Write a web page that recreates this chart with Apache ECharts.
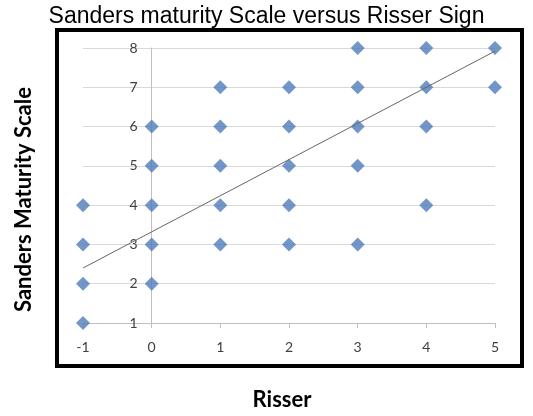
<!DOCTYPE html>
<html>
<head>
<meta charset="UTF-8">
<title>Sanders maturity Scale versus Risser Sign</title>
<script type="text/javascript" src="https://cdn.jsdelivr.net/npm/echarts@6/dist/echarts.min.js"></script>
<style>
  html, body { margin: 0; padding: 0; background: #fff; }
  #main { width: 533px; height: 416px; }
</style>
</head>
<body>
<div id="main"></div>
<script type="text/javascript">
// Risser sign vs Sanders maturity scale, one entry per diamond
var risser  = [3, 4, 5,  1, 2, 3, 4, 5,  0, 1, 2, 3, 4,  0, 1, 2, 3,  -1, 0, 1, 2, 4,  -1, 0, 1, 2, 3,  -1, 0,  -1];
var sanders = [8, 8, 8,  7, 7, 7, 7, 7,  6, 6, 6, 6, 6,  5, 5, 5, 5,   4, 4, 4, 4, 4,   3, 3, 3, 3, 3,   2, 2,   1];
// trend line as drawn (end points)
var trendX = [-1, 5];
var trendY = [2.4, 7.92];
var xTicks = [-1, 0, 1, 2, 3, 4, 5];
var yTicks = [1, 2, 3, 4, 5, 6, 7, 8];

var points = [];
for (var i = 0; i < risser.length; i++) {
    points.push([risser[i], sanders[i]]);
}
var trend = [];
for (var j = 0; j < trendX.length; j++) {
    trend.push([trendX[j], trendY[j]]);
}

var gridLeft = 83, gridRight = 38;
var plotW = 533 - gridLeft - gridRight;
// the y axis crosses at x = 0: shift it right by one x unit
var yShift = plotW / (xTicks[xTicks.length - 1] - xTicks[0]) * (0 - xTicks[0]);

var myChart = echarts.init(document.getElementById('main'));
var labelFont = 'Lato, "Open Sans", sans-serif';

var option = {
    animation: false,
    title: {
        text: 'Sanders maturity Scale versus Risser Sign',
        left: 'center',
        top: 0,
        textStyle: {
            fontFamily: '"Liberation Sans", Arial, sans-serif',
            fontWeight: 'normal',
            fontSize: 23,
            color: '#000'
        }
    },
    graphic: [{
        type: 'rect',
        shape: { x: 57, y: 30, width: 465, height: 336 },
        style: { fill: 'none', stroke: '#000', lineWidth: 4 },
        z: 100
    }],
    grid: {
        left: gridLeft,
        right: gridRight,
        top: 48,
        bottom: 93,
        containLabel: false,
        outerBoundsMode: 'none'
    },
    xAxis: {
        type: 'value',
        min: xTicks[0],
        max: xTicks[xTicks.length - 1],
        interval: 1,
        name: 'Risser',
        nameLocation: 'middle',
        nameGap: 66,
        nameTextStyle: {
            fontFamily: labelFont,
            fontWeight: 'bold',
            fontSize: 22,
            color: '#000',
            padding: [0, 14, 0, 0]
        },
        axisLine: { onZero: false, lineStyle: { color: '#BFBFBF', width: 1 } },
        axisTick: { show: true, length: 5, lineStyle: { color: '#BFBFBF' } },
        axisLabel: {
            margin: 17,
            fontFamily: labelFont,
            fontSize: 14,
            color: '#404040'
        },
        splitLine: { show: false }
    },
    yAxis: {
        type: 'value',
        min: yTicks[0],
        max: yTicks[yTicks.length - 1],
        interval: 1,
        offset: -yShift,
        name: 'Sanders Maturity Scale',
        nameLocation: 'middle',
        nameGap: 117,
        nameTextStyle: {
            fontFamily: labelFont,
            fontWeight: 'bold',
            fontSize: 22,
            color: '#000',
            padding: [0, 28, 0, 0]
        },
        axisLine: { show: true, onZero: false, lineStyle: { color: '#BFBFBF', width: 1 } },
        axisTick: { show: false },
        axisLabel: {
            margin: 14,
            fontFamily: labelFont,
            fontSize: 14,
            color: '#404040'
        },
        splitLine: { show: true, lineStyle: { color: '#D9D9D9', width: 1 } }
    },
    series: [{
        type: 'scatter',
        data: points,
        symbol: 'diamond',
        symbolSize: [14, 14],
        itemStyle: { color: '#4F7CBA' }
    }, {
        type: 'line',
        data: trend,
        showSymbol: false,
        symbol: 'none',
        lineStyle: { color: '#666666', width: 1 },
        z: 3
    }]
};

myChart.setOption(option);
</script>
</body>
</html>
